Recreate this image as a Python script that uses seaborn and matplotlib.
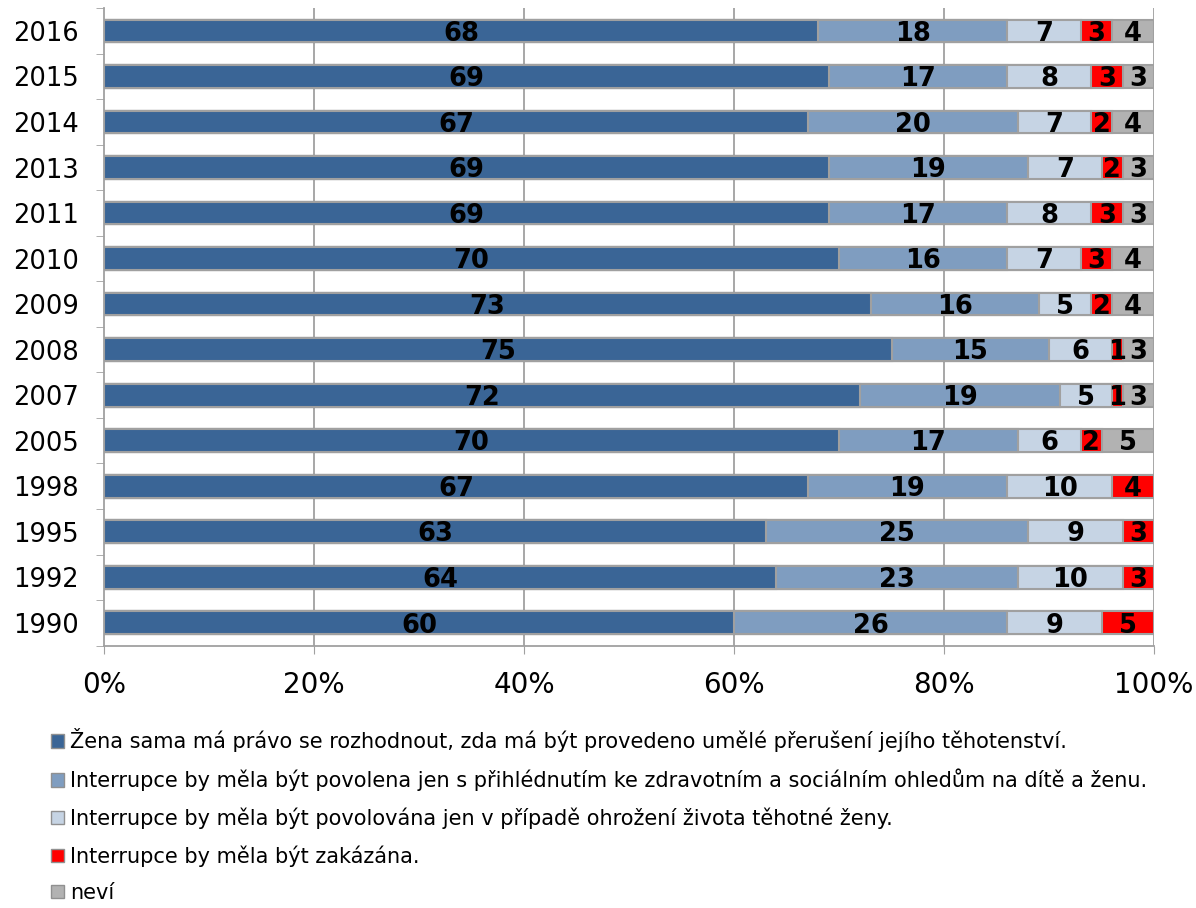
import numpy as np
import pandas as pd
import matplotlib
matplotlib.use('Agg')
import matplotlib.pyplot as plt
import seaborn as sns
from matplotlib.patches import Patch

years = ['2016', '2015', '2014', '2013', '2011', '2010', '2009', '2008',
         '2007', '2005', '1998', '1995', '1992', '1990']
zena = [68, 69, 67, 69, 69, 70, 73, 75, 72, 70, 67, 63, 64, 60]
povolena = [18, 17, 20, 19, 17, 16, 16, 15, 19, 17, 19, 25, 23, 26]
ohrozeni = [7, 8, 7, 7, 8, 7, 5, 6, 5, 6, 10, 9, 10, 9]
zakazana = [3, 3, 2, 2, 3, 3, 2, 1, 1, 2, 4, 3, 3, 5]
nevi = [4, 3, 4, 3, 3, 4, 4, 3, 3, 5, 0, 0, 0, 0]

series_names = [
    'Žena sama má právo se rozhodnout, zda má být provedeno umělé přerušení jejího těhotenství.',
    'Interrupce by měla být povolena jen s přihlédnutím ke zdravotním a sociálním ohledům na dítě a ženu.',
    'Interrupce by měla být povolována jen v případě ohrožení života těhotné ženy.',
    'Interrupce by měla být zakázána.',
    'neví',
]
colors = ['#3a6596', '#7f9dc0', '#c6d4e4', '#ff0000', '#b2b2b2']

sns.set_style('white')
plt.rcParams['font.family'] = ['DejaVu Sans']
plt.rcParams['text.color'] = 'black'
plt.rcParams['xtick.color'] = 'black'
plt.rcParams['ytick.color'] = 'black'

df = pd.DataFrame({'year': years, 's0': zena, 's1': povolena, 's2': ohrozeni,
                   's3': zakazana, 's4': nevi})
cols = ['s0', 's1', 's2', 's3', 's4']
cum = df[cols].cumsum(axis=1)

fig = plt.figure(figsize=(11.96, 9.08), dpi=100)
ax = fig.add_axes([0.087, 0.289, 0.878, 0.702])

for x in [20, 40, 60, 80, 100]:
    ax.axvline(x, color='#a0a0a0', lw=1.3, zorder=0)

# draw from the longest cumulative bar down so shorter ones sit on top
for i in range(4, -1, -1):
    sns.barplot(x=cum[cols[i]], y=df['year'], orient='h', color=colors[i],
                width=0.5, edgecolor='#a0a0a0', linewidth=1.5, saturation=1,
                ax=ax, zorder=2)

# value labels
for i, c in enumerate(cols):
    starts = cum[c] - df[c]
    for j in range(len(years)):
        v = df[c][j]
        if v == 0:
            continue
        ax.text(starts[j] + v / 2, j + 0.06, str(v), ha='center', va='center',
                fontsize=18.5, fontweight='bold', color='black', zorder=5)

ax.set_xlim(0, 100)
ax.set_ylim(len(years) - 0.5, -0.5)
ax.set_xticks([0, 20, 40, 60, 80, 100])
ax.set_xticklabels(['0%', '20%', '40%', '60%', '80%', '100%'])
ax.set_xlabel('')
ax.set_ylabel('')
ax.tick_params(axis='x', labelsize=20, length=6, color='#a0a0a0',
               labelcolor='black', bottom=True, pad=12)
ax.tick_params(axis='y', which='major', labelsize=18.5, length=0,
               labelcolor='black', pad=18)
ax.set_yticks(np.arange(-0.5, len(years), 1), minor=True)
ax.tick_params(axis='y', which='minor', length=6, color='#a0a0a0', left=True)

for s in ['top', 'right']:
    ax.spines[s].set_visible(False)
for s in ['left', 'bottom']:
    ax.spines[s].set_color('#a0a0a0')
    ax.spines[s].set_linewidth(1.3)

handles = [Patch(facecolor=colors[i], edgecolor='#909090', label=series_names[i])
           for i in range(5)]
fig.legend(handles=handles, loc='upper left', bbox_to_anchor=(0.036, 0.207),
           frameon=False, fontsize=15, handlelength=0.6, handleheight=0.6,
           handletextpad=0.3, labelspacing=0.78, borderaxespad=0)

fig.savefig('out.png', dpi=100)
